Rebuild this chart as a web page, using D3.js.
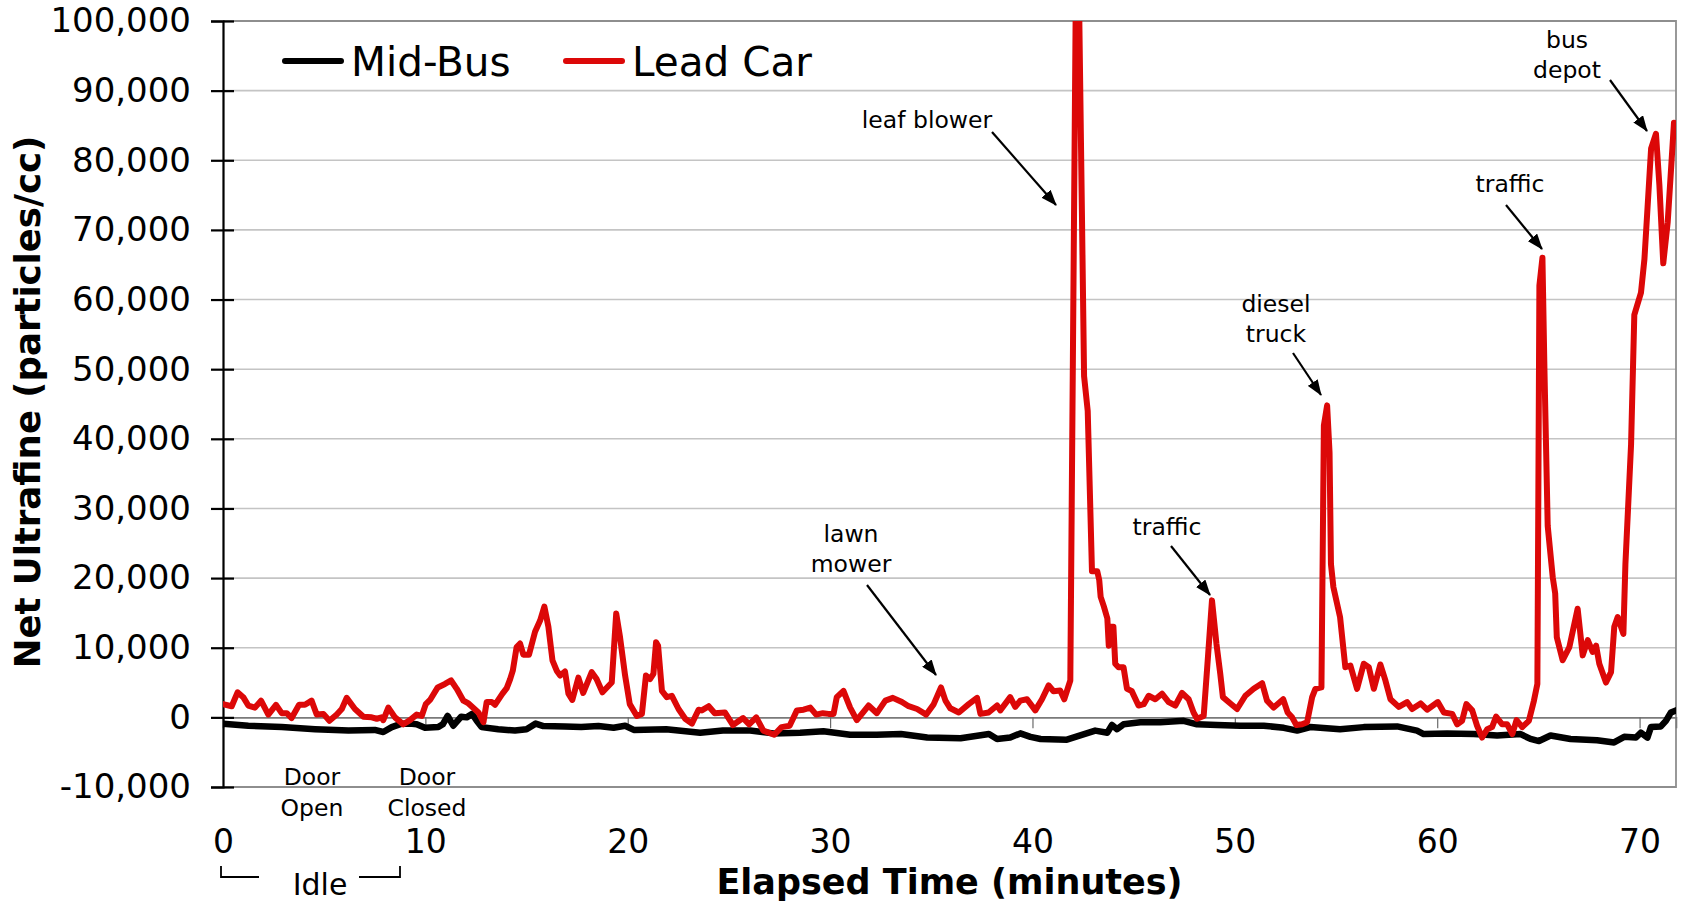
<!DOCTYPE html>
<html>
<head>
<meta charset="utf-8">
<script src="https://cdn.jsdelivr.net/npm/d3@7"></script>
<style>
  body { margin: 0; background: #fff; }
  svg { display: block; font-family: "DejaVu Sans", Verdana, sans-serif; }
</style>
</head>
<body>
<svg id="chart"></svg>
<script>
// Elapsed time (minutes) and net ultrafine count (particles/cc)
const leadCar = [
  [0, 1900], [0.43, 1600], [0.72, 3600], [1.0, 2900], [1.25, 1700], [1.58, 1400], [1.88, 2400],
  [2.24, 400], [2.62, 1800], [2.9, 600], [3.15, 600], [3.39, -100], [3.76, 1800], [4.05, 1800],
  [4.38, 2400], [4.63, 400], [4.96, 500], [5.26, -500], [5.62, 400], [5.87, 1200], [6.11, 2800],
  [6.52, 1200], [6.94, 100], [7.35, 0], [7.6, -200], [7.84, 0], [7.92, -400], [8.17, 1400],
  [8.5, 0], [8.91, -1000], [9.24, -400], [9.57, 400], [9.82, 200], [10.02, 1900], [10.23, 2500],
  [10.61, 4300], [10.97, 4800], [11.27, 5300], [11.55, 4100], [11.88, 2400], [12.13, 2000],
  [12.62, 700], [12.87, -700], [13.03, 2200], [13.28, 2200], [13.44, 1800], [13.81, 3400],
  [14.02, 4200], [14.19, 5500], [14.32, 6700], [14.51, 10100], [14.68, 10600], [14.84, 9000],
  [15.12, 9000], [15.42, 12300], [15.67, 13900], [15.88, 15900], [16.08, 13000], [16.28, 8200],
  [16.49, 6700], [16.66, 6000], [16.9, 6600], [17.07, 3400], [17.26, 2500], [17.56, 5700],
  [17.8, 3500], [18.22, 6500], [18.46, 5500], [18.75, 3600], [19.21, 5000], [19.43, 14900],
  [19.62, 11500], [19.87, 6000], [20.1, 1900], [20.45, 200], [20.7, 500], [20.9, 6000],
  [21.1, 5500], [21.27, 6250], [21.4, 10800], [21.5, 10300], [21.69, 3800], [21.93, 2900],
  [22.18, 3100], [22.51, 1200], [22.84, -200], [23.17, -900], [23.5, 1100], [23.66, 1000],
  [24.0, 1600], [24.3, 600], [24.8, 700], [25.2, -1100], [25.7, -100], [26.0, -1000],
  [26.35, 0], [26.7, -1900], [27.24, -2500], [27.6, -1400], [28.0, -1200], [28.36, 1000],
  [28.69, 1100], [29.02, 1400], [29.31, 400], [29.64, 600], [29.92, 500], [30.17, 500],
  [30.33, 2900], [30.66, 3800], [30.99, 1400], [31.32, -400], [31.57, 500], [31.9, 1700],
  [32.31, 600], [32.73, 2400], [33.1, 2800], [33.55, 2200], [33.88, 1600], [34.3, 1200],
  [34.75, 400], [35.12, 1900], [35.48, 4300], [35.7, 2400], [35.94, 1300], [36.36, 700],
  [36.85, 1900], [37.26, 2800], [37.43, 500], [37.83, 700], [38.25, 1700], [38.41, 1000],
  [38.9, 2900], [39.15, 1500], [39.4, 2400], [39.73, 2600], [40.14, 1000], [40.47, 2600],
  [40.8, 4600], [41.04, 3750], [41.37, 3850], [41.57, 2600], [41.87, 5300], [42.2, 125000],
  [42.45, 71000], [42.55, 49000], [42.73, 44000], [42.94, 21000], [43.2, 21000], [43.3, 19700],
  [43.37, 17300], [43.53, 15900], [43.7, 14200], [43.77, 10300], [43.85, 13000], [44.0, 13000],
  [44.09, 7700], [44.25, 7200], [44.5, 7200], [44.67, 4100], [44.9, 3800], [45.24, 1700],
  [45.5, 1900], [45.74, 3100], [46.07, 2600], [46.4, 3400], [46.73, 2200], [47.06, 1700],
  [47.39, 3500], [47.72, 2600], [47.96, 700], [48.13, -200], [48.46, 200], [48.66, 8200],
  [48.87, 16800], [49.09, 10600], [49.28, 6250], [49.41, 2900], [49.78, 2000], [50.11, 1200],
  [50.52, 3100], [50.93, 4100], [51.35, 4900], [51.59, 2400], [51.92, 1400], [52.39, 2600],
  [52.61, 700], [52.83, 0], [53.04, -1100], [53.32, -1000], [53.57, -700], [53.82, 2900],
  [53.98, 4100], [54.28, 4300], [54.4, 41900], [54.56, 44800], [54.68, 38000], [54.75, 22000],
  [54.87, 18700], [55.2, 14400], [55.46, 7200], [55.71, 7450], [56.04, 4100], [56.37, 7700],
  [56.62, 7200], [56.87, 4100], [57.19, 7600], [57.44, 5300], [57.69, 2600], [58.1, 1500],
  [58.51, 2200], [58.76, 1200], [59.18, 2000], [59.5, 1100], [60.03, 2200], [60.33, 700],
  [60.74, 500], [60.99, -1000], [61.23, -500], [61.44, 1900], [61.73, 1000], [61.97, -1200],
  [62.22, -2900], [62.47, -1700], [62.71, -1400], [62.91, 100], [63.21, -1000], [63.46, -1000],
  [63.71, -2400], [63.92, -400], [64.2, -1400], [64.53, -500], [64.78, 2400], [64.95, 4800],
  [65.05, 62000], [65.2, 66000], [65.3, 49800], [65.46, 27500], [65.71, 20100], [65.83, 17800],
  [65.91, 11500], [66.2, 8200], [66.53, 10100], [66.94, 15600], [67.19, 8900], [67.44, 11100],
  [67.68, 9400], [67.85, 10300], [68.01, 7700], [68.34, 5000], [68.59, 6500], [68.75, 13000],
  [68.92, 14400], [69.2, 12000], [69.3, 22000], [69.58, 39200], [69.74, 57800], [70.07, 61000],
  [70.24, 65800], [70.57, 81700], [70.81, 83800], [70.98, 76400], [71.17, 65200], [71.39, 71100],
  [71.7, 85400]
];

const midBus = [
  [0, -900], [1.25, -1200], [2.9, -1400], [4.55, -1700], [6.2, -1900], [7.5, -1800], [7.92, -2100],
  [8.34, -1400], [8.83, -900], [9.24, -900], [9.57, -1000], [9.98, -1500], [10.64, -1400],
  [10.86, -1000], [11.1, 200], [11.38, -1200], [11.77, 100], [12.04, 0], [12.32, 500],
  [12.54, -500], [12.78, -1400], [13.6, -1700], [14.43, -1900], [15.0, -1700], [15.45, -900],
  [15.83, -1250], [16.9, -1300], [17.7, -1400], [18.55, -1250], [19.3, -1500], [19.87, -1200],
  [20.3, -1800], [21.9, -1700], [23.58, -2200], [24.7, -1900], [26.05, -1900], [27.2, -2300],
  [28.52, -2200], [29.67, -2000], [30.99, -2500], [32.3, -2500], [33.5, -2400], [34.8, -2900],
  [36.45, -3000], [37.85, -2400], [38.25, -3100], [38.9, -2900], [39.4, -2300], [39.9, -2800],
  [40.4, -3100], [41.7, -3200], [42.36, -2600], [43.1, -1900], [43.7, -2200], [43.93, -1100],
  [44.18, -1700], [44.5, -1000], [45.33, -700], [46.32, -700], [47.47, -500], [48.13, -1000],
  [49.12, -1100], [50.27, -1200], [51.43, -1200], [52.42, -1500], [53.08, -1900], [53.73, -1400],
  [55.2, -1700], [56.37, -1400], [58.02, -1300], [59.0, -1900], [59.33, -2400], [60.49, -2300],
  [61.81, -2400], [62.96, -2600], [64.12, -2400], [64.61, -3100], [65.03, -3400], [65.6, -2600],
  [66.59, -3100], [67.9, -3300], [68.74, -3600], [69.24, -2800], [69.82, -2900], [70.06, -2200],
  [70.39, -2900], [70.56, -1400], [71.05, -1300], [71.3, -500], [71.55, 700], [71.8, 1000]
];

const yTicks = [-10000, 0, 10000, 20000, 30000, 40000, 50000, 60000, 70000, 80000, 90000, 100000];
const xTicks = [0, 10, 20, 30, 40, 50, 60, 70];
const seriesNames = ["Mid-Bus", "Lead Car"];
const seriesColors = ["#000000", "#dc0808"];

// event notes: text lines, text centre/baselines and arrow (start -> tip), in pixels
const notes = [
  { lines: ["leaf blower"], x: 927, y: 128, arrow: [992, 132, 1056, 205] },
  { lines: ["lawn", "mower"], x: 851, y: 542, arrow: [867, 585, 936, 675] },
  { lines: ["traffic"], x: 1167, y: 535, arrow: [1171, 546, 1210, 595] },
  { lines: ["diesel", "truck"], x: 1276, y: 312, arrow: [1293, 353, 1321, 395] },
  { lines: ["traffic"], x: 1510, y: 192, arrow: [1506, 205, 1542, 249] },
  { lines: ["bus", "depot"], x: 1567, y: 48, arrow: [1610, 80, 1647, 131] }
];

const width = 1683, height = 901;
const plotLeft = 223, plotRight = 1676, plotTop = 21, plotBottom = 787;

const svg = d3.select("#chart").attr("width", width).attr("height", height);

const x = d3.scaleLinear().domain([0, 71.8]).range([plotLeft, plotRight]);
const y = d3.scaleLinear().domain([-10000, 100000]).range([plotBottom, plotTop]);

// horizontal gridlines
svg.append("g")
  .selectAll("line")
  .data(yTicks.filter(d => d !== 0 && d !== -10000 && d !== 100000))
  .enter().append("line")
  .attr("x1", plotLeft).attr("x2", plotRight)
  .attr("y1", d => y(d)).attr("y2", d => y(d))
  .attr("stroke", "#c4c4c4")
  .attr("stroke-width", 1.6);

// plot border (top, right, bottom)
svg.append("path")
  .attr("d", `M${plotLeft},${y(100000)}H${plotRight}V${y(-10000)}H${plotLeft}`)
  .attr("fill", "none")
  .attr("stroke", "#8e8e8e")
  .attr("stroke-width", 1.8);

// x axis at zero with small ticks
const xAxis = svg.append("g")
  .attr("transform", `translate(0,${y(0)})`)
  .call(d3.axisBottom(x).tickValues(xTicks).tickSize(11).tickFormat(""));
xAxis.select(".domain").attr("stroke", "#7a7a7a").attr("stroke-width", 1.6);
xAxis.selectAll(".tick line").attr("stroke", "#6a6a6a").attr("stroke-width", 1.2);

// x tick labels sit under the plot
const xLabels = svg.append("g")
  .attr("transform", `translate(0,${plotBottom})`)
  .call(d3.axisBottom(x).tickValues(xTicks).tickSize(0).tickPadding(43));
xLabels.select(".domain").remove();
xLabels.selectAll("text")
  .attr("font-family", "DejaVu Sans, Verdana, sans-serif")
  .attr("font-size", 33)
  .attr("fill", "#000");

// y axis, ticks crossing the line
const fmt = d3.format(",");
const yAxis = svg.append("g")
  .attr("transform", `translate(${plotLeft},0)`)
  .call(d3.axisLeft(y).tickValues(yTicks).tickSize(12).tickPadding(20)
    .tickFormat(d => fmt(d).replace("\u2212", "-")));
yAxis.select(".domain").attr("stroke", "#000").attr("stroke-width", 2.2);
yAxis.selectAll(".tick line").attr("stroke", "#000").attr("stroke-width", 2.2);
yAxis.selectAll(".tick").append("line")
  .attr("x1", 0).attr("x2", 11)
  .attr("stroke", "#000").attr("stroke-width", 2.2);
yAxis.selectAll("text")
  .attr("font-family", "DejaVu Sans, Verdana, sans-serif")
  .attr("font-size", 34)
  .attr("fill", "#000");

// series
svg.append("clipPath").attr("id", "plotClip")
  .append("rect")
  .attr("x", plotLeft).attr("y", plotTop)
  .attr("width", plotRight - plotLeft).attr("height", plotBottom - plotTop);

const line = d3.line().x(d => x(d[0])).y(d => y(d[1]));

const plot = svg.append("g").attr("clip-path", "url(#plotClip)");
plot.append("path")
  .datum(midBus)
  .attr("d", line)
  .attr("fill", "none")
  .attr("stroke", seriesColors[0])
  .attr("stroke-width", 6.5)
  .attr("stroke-linejoin", "round")
  .attr("stroke-linecap", "round");
plot.append("path")
  .datum(leadCar)
  .attr("d", line)
  .attr("fill", "none")
  .attr("stroke", seriesColors[1])
  .attr("stroke-width", 6)
  .attr("stroke-linejoin", "round")
  .attr("stroke-linecap", "round");

// axis titles
svg.append("text")
  .attr("transform", "translate(40,402) rotate(-90)")
  .attr("text-anchor", "middle")
  .attr("font-size", 35.5)
  .attr("font-weight", "bold")
  .text("Net Ultrafine (particles/cc)");

svg.append("text")
  .attr("x", (plotLeft + plotRight) / 2)
  .attr("y", 894)
  .attr("text-anchor", "middle")
  .attr("font-size", 35)
  .attr("font-weight", "bold")
  .text("Elapsed Time (minutes)");

// legend
const legendX = [285, 566];
const legend = svg.append("g");
seriesNames.forEach((name, i) => {
  legend.append("line")
    .attr("x1", legendX[i]).attr("x2", legendX[i] + 56)
    .attr("y1", 61).attr("y2", 61)
    .attr("stroke", seriesColors[i])
    .attr("stroke-width", 6)
    .attr("stroke-linecap", "round");
  legend.append("text")
    .attr("x", legendX[i] + 66)
    .attr("y", 76)
    .attr("font-size", 40.5)
    .text(name);
});

// arrowhead
svg.append("defs").append("marker")
  .attr("id", "arrow")
  .attr("viewBox", "0 -6 16 12")
  .attr("refX", 15)
  .attr("refY", 0)
  .attr("markerWidth", 16)
  .attr("markerHeight", 12)
  .attr("markerUnits", "userSpaceOnUse")
  .attr("orient", "auto")
  .append("path")
  .attr("d", "M0,-6L16,0L0,6Z")
  .attr("fill", "#000");

const noteG = svg.append("g");
notes.forEach(n => {
  n.lines.forEach((t, i) => {
    noteG.append("text")
      .attr("x", n.x)
      .attr("y", n.y + i * 30)
      .attr("text-anchor", "middle")
      .attr("font-size", 23.5)
      .text(t);
  });
  noteG.append("line")
    .attr("x1", n.arrow[0]).attr("y1", n.arrow[1])
    .attr("x2", n.arrow[2]).attr("y2", n.arrow[3])
    .attr("stroke", "#000")
    .attr("stroke-width", 2.2)
    .attr("marker-end", "url(#arrow)");
});

// door / idle labels under the axis
const doorNotes = [
  { lines: ["Door", "Open"], x: 312 },
  { lines: ["Door", "Closed"], x: 427 }
];
doorNotes.forEach(n => {
  n.lines.forEach((t, i) => {
    svg.append("text")
      .attr("x", n.x)
      .attr("y", 785 + i * 31)
      .attr("text-anchor", "middle")
      .attr("font-size", 23.5)
      .text(t);
  });
});

svg.append("text")
  .attr("x", 320)
  .attr("y", 895)
  .attr("text-anchor", "middle")
  .attr("font-size", 30)
  .text("Idle");

svg.append("path")
  .attr("d", "M221,866V877H259M359,877H400V866")
  .attr("fill", "none")
  .attr("stroke", "#000")
  .attr("stroke-width", 1.8);
</script>
</body>
</html>
